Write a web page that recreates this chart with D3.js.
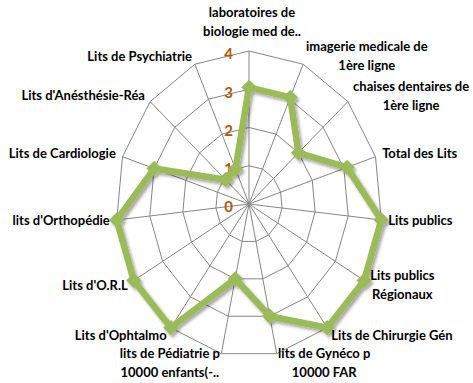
<!DOCTYPE html>
<html>
<head>
<meta charset="utf-8">
<script src="https://cdn.jsdelivr.net/npm/d3@7"></script>
<style>
  body { margin: 0; background: #fff; }
  svg text { font-family: Lato, "DejaVu Sans Condensed", sans-serif; }
</style>
</head>
<body>
<svg id="chart" width="473" height="383"></svg>
<script>
// axis labels (one entry per spoke, lines split as in the chart)
const AXES = [
  ["laboratoires de", "biologie med de.."],
  ["imagerie medicale de", "1ère  ligne"],
  ["chaises dentaires de", "1ère ligne"],
  ["Total des Lits"],
  ["Lits publics"],
  ["Lits publics", "Régionaux"],
  ["Lits de Chirurgie Gén"],
  ["lits de Gynéco p", "10000 FAR"],
  ["lits de Pédiatrie p", "10000 enfants(-.."],
  ["Lits d'Ophtalmo"],
  ["Lits d'O.R.L"],
  ["lits d'Orthopédie"],
  ["Lits de Cardiologie"],
  ["Lits d'Anésthésie-Réa"],
  ["Lits de Psychiatrie"]
];
const VALUES = [3.05, 3.05, 2, 3.1, 4, 4, 4, 3, 2, 4, 4, 4, 3, 0.95, 1];
const TICKS = [0, 1, 2, 3, 4];

const cx = 249, cy = 204;
const svg = d3.select("#chart");

// the original picture is a bit squashed horizontally, so two radial scales
const rx = d3.scaleLinear().domain([0, 4]).range([0, 133]);
const ry = d3.scaleLinear().domain([0, 4]).range([0, 153]);
const angle = d3.scaleLinear().domain([0, AXES.length]).range([0, 2 * Math.PI]);

const pt = (i, v) => [cx + rx(v) * Math.sin(angle(i)), cy - ry(v) * Math.cos(angle(i))];

const defs = svg.append("defs");
defs.append("filter")
    .attr("id", "shadow")
    .attr("x", "-20%").attr("y", "-20%").attr("width", "140%").attr("height", "140%")
  .append("feDropShadow")
    .attr("dx", 2).attr("dy", 2.5)
    .attr("stdDeviation", 1.6)
    .attr("flood-color", "#000")
    .attr("flood-opacity", 0.35);

const grid = svg.append("g").attr("stroke", "#868686").attr("stroke-width", 1).attr("fill", "none");

// rings
grid.selectAll("path.ring")
    .data(TICKS.slice(1))
    .enter()
    .append("path")
    .attr("class", "ring")
    .attr("d", t => d3.line()(AXES.map((a, i) => pt(i, t))) + "Z");

// spokes
grid.selectAll("line")
    .data(AXES)
    .enter()
    .append("line")
    .attr("x1", cx).attr("y1", cy)
    .attr("x2", (d, i) => pt(i, 4)[0])
    .attr("y2", (d, i) => pt(i, 4)[1]);

// tick numbers along the top spoke
svg.append("g").selectAll("text")
    .data(TICKS)
    .enter()
    .append("text")
    .attr("x", cx - 16)
    .attr("y", t => cy - ry(t) + 3)
    .attr("dy", "0.35em")
    .attr("text-anchor", "end")
    .attr("fill", "#B5560E")
    .attr("font-weight", "bold")
    .attr("font-size", "15px")
    .text(t => t);

// series
const series = svg.append("g").attr("filter", "url(#shadow)");
series.append("path")
    .attr("d", d3.line()(VALUES.map((v, i) => pt(i, v))) + "Z")
    .attr("fill", "none")
    .attr("stroke", "#9BBB59")
    .attr("stroke-width", 6.5)
    .attr("stroke-linejoin", "round");

series.selectAll("path.marker")
    .data(VALUES)
    .enter()
    .append("path")
    .attr("class", "marker")
    .attr("d", d3.symbol(d3.symbolDiamond2, 150))
    .attr("transform", (v, i) => `translate(${pt(i, v)})`)
    .attr("fill", "#9BBB59");

// category labels
const LINE_H = 19;
const labels = svg.append("g").attr("font-size", "13px").attr("font-weight", "bold").attr("fill", "#000");
AXES.forEach((lines, i) => {
  const a = angle(i), s = Math.sin(a), c = Math.cos(a);
  const [vx, vy] = pt(i, 4);
  const t = labels.append("text").attr("text-anchor", "middle");
  const spans = t.selectAll("tspan")
      .data(lines)
      .enter()
      .append("tspan")
      .text(d => d);
  const w = d3.max(spans.nodes(), n => n.getComputedTextLength());
  let x, yc;
  if (Math.abs(s) < 0.05) {
    x = vx + 3;
    yc = vy - 10 - lines.length * LINE_H / 2;
  } else {
    const gap = 7 * Math.abs(s);
    x = s > 0 ? vx + gap + w / 2 : vx - gap - w / 2;
    yc = vy - 9 * c;
  }
  spans.attr("x", x)
       .attr("y", (d, k) => yc + (k - (lines.length - 1) / 2) * LINE_H)
       .attr("dy", "0.35em");
});
</script>
</body>
</html>
